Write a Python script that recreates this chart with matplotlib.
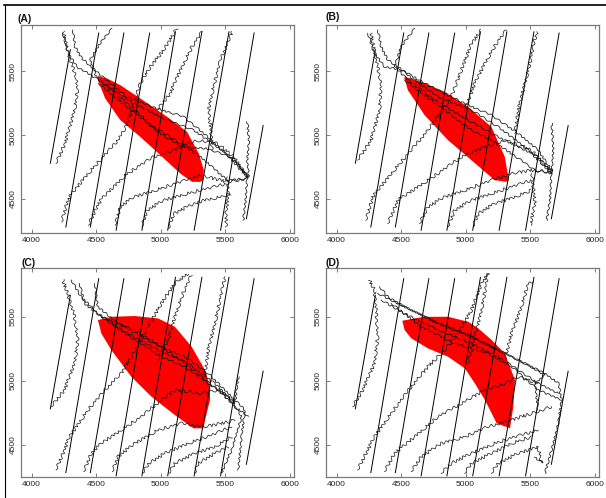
import matplotlib
matplotlib.use('Agg')
import matplotlib.pyplot as plt
from matplotlib.lines import Line2D

plt.rcParams['font.family'] = ['Liberation Sans', 'DejaVu Sans']

# ---------------- straight transect lines (same in every panel) ----------------
line_x0 = [4145, 4265, 4455, 4655, 4855, 5055, 5260, 5465, 5665]
line_y0 = [4780, 4280, 4280, 4255, 4255, 4255, 4255, 4255, 4345]
line_x1 = [4300, 4520, 4715, 4915, 5115, 5320, 5530, 5725, 5795]
line_y1 = [5670, 5800, 5800, 5800, 5810, 5810, 5810, 5800, 5075]

x_ticks = [4000, 4500, 5000, 5500, 6000]
y_ticks = [4500, 5000, 5500]
panel_labels = ['(A)', '(B)', '(C)', '(D)']

# ---------------- red regions ----------------
red_A_x = [4513, 4583, 4687, 4842, 5050, 5205, 5296, 5335, 5330, 5309, 5244, 5153, 4998, 4842, 4687, 4570, 4518]
red_A_y = [5463, 5445, 5392, 5288, 5144, 5026, 4856, 4725, 4647, 4634, 4634, 4699, 4843, 4987, 5118, 5288, 5419]
red_B_x = [4526, 4656, 4837, 5019, 5200, 5304, 5335, 5317, 5226, 5045, 4863, 4682, 4552, 4526]
red_B_y = [5458, 5419, 5340, 5222, 5065, 4830, 4647, 4634, 4647, 4804, 4961, 5157, 5353, 5445]
red_C_x = [4514, 4618, 4799, 4981, 5111, 5241, 5344, 5383, 5383, 5357, 5331, 5254, 5111, 4929, 4773, 4618, 4540]
red_C_y = [5475, 5501, 5507, 5488, 5423, 5266, 5084, 4953, 4849, 4744, 4627, 4627, 4731, 4875, 5031, 5240, 5371]
red_D_x = [4509, 4605, 4683, 4864, 5020, 5098, 5202, 5305, 5383, 5370, 5344, 5241, 5150, 5072, 4994, 4864, 4709, 4579, 4527]
red_D_y = [5470, 5488, 5501, 5501, 5462, 5410, 5319, 5214, 5005, 4796, 4627, 4666, 4849, 4979, 5097, 5188, 5253, 5332, 5397]

# ---------------- tracks, panel A ----------------
A_T1 = ([4189, 4259, 4303, 4337, 4355, 4345, 4298, 4272, 4246],
        [4778, 4935, 5092, 5222, 5353, 5458, 5589, 5693, 5811])
A_1 = ([4319, 4337, 4389, 4531, 4739, 4972, 5179, 5335, 5516, 5672, 5659, 5641],
       [5824, 5693, 5602, 5471, 5301, 5209, 5144, 5013, 4843, 4673, 4490, 4333])
A_2 = ([4241, 4285, 4350, 4415, 4583, 4791, 5050, 5257, 5439, 5568, 5685, 5672, 5685, 5672],
       [5798, 5641, 5536, 5497, 5392, 5249, 5118, 5039, 4908, 4804, 4673, 4804, 4961, 5105])
A_3 = ([4622, 4531, 4454, 4505, 4713, 4946, 5153, 5309, 5516, 5672],
       [5837, 5719, 5589, 5445, 5275, 5065, 4935, 4830, 4647, 4660])
A_4 = ([4518, 4739, 4998, 5166, 5361, 5568, 5677],
       [5405, 5222, 5013, 4908, 4895, 4817, 4668])
A_5 = ([4233, 4272, 4303, 4415, 4531, 4648, 4726, 4778, 4842, 4920, 5024, 5102, 5128],
       [4320, 4464, 4529, 4673, 4804, 4935, 5052, 5196, 5405, 5536, 5667, 5798, 5837])
A_6 = ([4441, 4505, 4544, 4635, 4726, 4842, 4946, 5102, 5205, 5309, 5439, 5568, 5672],
       [4294, 4438, 4503, 4595, 4686, 4765, 4830, 4882, 4935, 4961, 4935, 4830, 4673])
A_7 = ([4648, 4687, 4791, 4920, 5076, 5309, 5516, 5672],
       [4294, 4438, 4516, 4555, 4608, 4686, 4634, 4660])
A_8 = ([4855, 4894, 5024, 5205, 5361, 5516],
       [4281, 4411, 4490, 4542, 4581, 4621])
A_9 = ([5063, 5102, 5205, 5335, 5464, 5542],
       [4268, 4385, 4438, 4490, 4516, 4542])
A_10 = ([5516, 5527, 5506, 5511], [4673, 4542, 4411, 4281])
A_11 = ([4972, 5076, 5128, 5179, 5244, 5322], [5196, 5327, 5458, 5562, 5693, 5811])
A_12 = ([5402, 5387, 5374, 5413, 5464, 5555], [4882, 5065, 5209, 5392, 5589, 5811])

# ---------------- tracks, panel B ----------------
B_T1 = ([4163, 4267, 4332, 4345, 4306, 4267], [4804, 4961, 5196, 5405, 5589, 5798])
B_1 = ([4319, 4345, 4397, 4526, 4734, 4993, 5200, 5408, 5563, 5667, 5654, 5628],
       [5824, 5693, 5589, 5497, 5379, 5249, 5157, 5013, 4882, 4725, 4490, 4333])
B_2 = ([4241, 4293, 4371, 4500, 4786, 5045, 5252, 5459, 5667, 5680, 5667],
       [5798, 5641, 5536, 5510, 5301, 5196, 5065, 4908, 4699, 4882, 5092])
B_3 = ([4604, 4500, 4449, 4526, 4760, 5019, 5200, 5408, 5563, 5667],
       [5837, 5693, 5536, 5458, 5275, 5118, 5013, 4908, 4830, 4712])
B_4 = ([4526, 4837, 5045, 5200, 5356, 5537, 5667], [5432, 5196, 5039, 4961, 4856, 4725, 4699])
B_5 = ([4228, 4280, 4423, 4578, 4708, 4837, 4889, 4967, 5045, 5123],
       [4333, 4516, 4699, 4882, 5039, 5222, 5301, 5510, 5719, 5824])
B_6 = ([4397, 4475, 4630, 4786, 4967, 5148, 5304, 5511, 5667],
       [4307, 4490, 4595, 4699, 4830, 4908, 4961, 4882, 4712])
B_7 = ([4643, 4708, 4837, 4993, 5200, 5356, 5511, 5667],
       [4307, 4438, 4516, 4568, 4647, 4699, 4725, 4712])
B_8 = ([4863, 4915, 5045, 5200, 5356, 5511], [4281, 4411, 4490, 4542, 4595, 4647])
B_9 = ([5058, 5097, 5226, 5382, 5511], [4281, 4385, 4464, 4516, 4568])
B_10 = ([5511, 5537, 5506], [4699, 4490, 4294])
B_11 = ([4993, 5071, 5148, 5239, 5317], [5196, 5405, 5562, 5719, 5824])
B_12 = ([5382, 5408, 5459, 5511, 5550], [5013, 5196, 5405, 5615, 5811])

# ---------------- tracks, panel C ----------------
C_T1 = ([4151, 4254, 4332, 4358, 4332, 4280, 4241], [4796, 4927, 5136, 5319, 5501, 5684, 5789])
C_1 = ([4371, 4410, 4539, 4799, 5006, 5187, 5369, 5472, 5576, 5654, 5628, 5602],
       [5762, 5606, 5501, 5397, 5266, 5188, 5057, 4953, 4849, 4770, 4561, 4300])
C_2 = ([4306, 4384, 4513, 4747, 4980, 5213, 5421, 5576, 5602],
       [5789, 5658, 5527, 5371, 5240, 5136, 4979, 4822, 5031])
C_3 = ([4488, 4513, 4669, 4954, 5161, 5317, 5447, 5576, 5680],
       [5762, 5580, 5449, 5292, 5162, 5031, 4927, 4796, 4718])
C_4 = ([4539, 4799, 5006, 5187, 5369, 5524, 5628, 5550, 5472],
       [5501, 5319, 5188, 5110, 4979, 4875, 4718, 4457, 4274])
C_5 = ([4189, 4254, 4293, 4436, 4591, 4695, 4773, 4902, 5006, 5110, 5213],
       [4300, 4457, 4561, 4770, 4953, 5057, 5188, 5423, 5606, 5762, 5841])
C_6 = ([4404, 4462, 4539, 4695, 4850, 5006, 5110, 5317, 5447, 5576],
       [4287, 4431, 4509, 4614, 4718, 4849, 4927, 4901, 4927, 4822])
C_7 = ([4626, 4669, 4799, 4980, 5161, 5343, 5472, 5576],
       [4287, 4405, 4509, 4614, 4666, 4640, 4666, 4692])
C_8 = ([4859, 4910, 5032, 5213, 5395, 5550], [4274, 4353, 4431, 4509, 4574, 4640])
C_9 = ([5065, 5110, 5265, 5421, 5550], [4274, 4353, 4431, 4483, 4561])
C_10 = ([5265, 5291, 5421, 5524], [4274, 4353, 4431, 4483])
C_11 = ([4980, 5058, 5110, 5174, 5239], [5162, 5319, 5501, 5684, 5828])
C_12 = ([5343, 5369, 5421, 5460, 5498], [5031, 5240, 5449, 5632, 5815])

# ---------------- tracks, panel D ----------------
D_T1 = ([4125, 4202, 4293, 4319, 4306, 4293, 4254], [4796, 4927, 5136, 5345, 5554, 5710, 5789])
D_1 = ([4332, 4397, 4526, 4786, 5045, 5304, 5511, 5615, 5719, 5745, 5719, 5667, 5615],
       [5736, 5658, 5580, 5449, 5345, 5214, 5110, 5057, 4979, 4849, 4666, 4457, 4274])
D_2 = ([4319, 4475, 4734, 4993, 5252, 5459, 5615, 5537, 5563],
       [5684, 5606, 5475, 5371, 5240, 5136, 5044, 4979, 4770])
D_3 = ([4345, 4526, 4786, 5045, 5252, 5408, 5563, 5719],
       [5632, 5527, 5397, 5292, 5188, 5084, 4979, 4901])
D_4 = ([4423, 4656, 4915, 5174, 5356, 5563, 5745], [5606, 5423, 5292, 5214, 5110, 4927, 4849])
D_5 = ([4163, 4241, 4293, 4423, 4578, 4708, 4837, 4941, 5045, 5123, 5174],
       [4300, 4457, 4561, 4744, 4953, 5110, 5240, 5371, 5554, 5762, 5841])
D_6 = ([4371, 4449, 4604, 4786, 4967, 5148, 5304, 5408, 5563],
       [4287, 4431, 4561, 4718, 4822, 4927, 4979, 5031, 4979])
D_7 = ([4578, 4656, 4811, 4993, 5174, 5356, 5511, 5667],
       [4287, 4405, 4509, 4561, 4640, 4692, 4744, 4796])
D_8 = ([4811, 4889, 5045, 5226, 5382, 5563], [4274, 4353, 4431, 4509, 4561, 4614])
D_9 = ([4993, 5045, 5200, 5356, 5511], [4274, 4353, 4431, 4509, 4561])
D_10 = ([5200, 5252, 5408, 5563, 5589, 5537], [4274, 4353, 4431, 4483, 4353, 4405])
D_11 = ([5019, 5071, 5123, 5161, 5174], [5136, 5345, 5554, 5762, 5841])
D_12 = ([5304, 5356, 5433, 5485, 5524], [5162, 5371, 5580, 5762, 5775])

# bundle tracks (crossing the red region) are smoother than the others
bundle_A = [A_1, A_2, A_3, A_4]
other_A = [A_T1, A_5, A_6, A_7, A_8, A_9, A_10, A_11, A_12]
bundle_B = [B_1, B_2, B_3, B_4]
other_B = [B_T1, B_5, B_6, B_7, B_8, B_9, B_10, B_11, B_12]
bundle_C = [C_1, C_2, C_3, C_4]
other_C = [C_T1, C_5, C_6, C_7, C_8, C_9, C_10, C_11, C_12]
bundle_D = [D_1, D_2, D_3, D_4]
other_D = [D_T1, D_5, D_6, D_7, D_8, D_9, D_10, D_11, D_12]

panels = [
    (red_A_x, red_A_y, bundle_A, other_A),
    (red_B_x, red_B_y, bundle_B, other_B),
    (red_C_x, red_C_y, bundle_C, other_C),
    (red_D_x, red_D_y, bundle_D, other_D),
]

W, H = 606, 498
fig = plt.figure(figsize=(W / 100, H / 100), dpi=100)

ax_w = 273 / W
positions = [
    [20.7 / W, 1 - 233.3 / H, ax_w, 208.3 / H],
    [325.7 / W, 1 - 233.3 / H, ax_w, 208.3 / H],
    [20.7 / W, 1 - 476.7 / H, ax_w, 208.4 / H],
    [325.7 / W, 1 - 476.7 / H, ax_w, 208.4 / H],
]
ylims = [(4231, 5863), (4231, 5863), (4248, 5881), (4248, 5881)]
label_pos = [(17 / W, 1 - 21.5 / H), (326 / W, 1 - 20 / H), (21 / W, 1 - 266.5 / H), (326 / W, 1 - 266.5 / H)]

for i, (rx, ry, bundle, others) in enumerate(panels):
    ax = fig.add_axes(positions[i])
    ax.fill(rx, ry, color='#ff0000', lw=0, zorder=1)
    for x0, y0, x1, y1 in zip(line_x0, line_y0, line_x1, line_y1):
        ax.plot([x0, x1], [y0, y1], color='black', lw=0.7, zorder=2)
    for tx, ty in bundle:
        ln, = ax.plot(tx, ty, color='#111111', lw=0.55, zorder=3)
        ln.set_sketch_params(scale=0.9, length=7, randomness=2.5)
    for tx, ty in others:
        ln, = ax.plot(tx, ty, color='#111111', lw=0.5, zorder=3)
        ln.set_sketch_params(scale=1.5, length=6, randomness=3)
    ax.set_xlim(3915, 6032)
    ax.set_ylim(*ylims[i])
    ax.set_xticks(x_ticks)
    ax.set_yticks(y_ticks)
    ax.tick_params(direction='in', length=3, width=0.6, color='#666666',
                   labelsize=6, labelcolor='#222222', top=True, right=True, pad=3)
    for lbl in ax.get_yticklabels():
        lbl.set_rotation(90)
        lbl.set_va('center')
    for sp in ax.spines.values():
        sp.set_color('#7a7a7a')
        sp.set_linewidth(0.9)
    fig.text(label_pos[i][0], label_pos[i][1], panel_labels[i], fontsize=7.5,
             fontweight='bold', ha='left', va='baseline', color='#111111')

# outer frame lines of the reproduced figure
fig.add_artist(Line2D([0.006, 1.0], [1 - 5.5 / H, 1 - 5.5 / H], transform=fig.transFigure,
                      color='black', lw=1.2))
fig.add_artist(Line2D([4.5 / W, 4.5 / W], [0.0, 1 - 5.5 / H], transform=fig.transFigure,
                      color='black', lw=0.8))

fig.savefig('out.png', dpi=100)
